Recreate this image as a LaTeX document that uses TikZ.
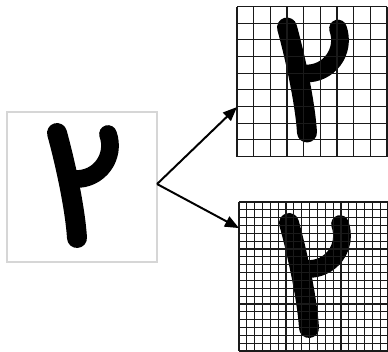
\documentclass[tikz,border=0pt]{standalone}
\usetikzlibrary{arrows.meta,calc}
\definecolor{framec}{HTML}{D6D6D6}
\definecolor{gridc}{HTML}{1A1A1A}
\definecolor{inkc}{HTML}{000000}

\tikzset{
  imgbox/.style={inner sep=0pt, outer sep=0pt, anchor=north west, minimum size=#1},
  ink/.style={draw=inkc, line cap=round, line join=round},
  gridline/.style={draw=gridc, line width=0.8pt},
  zoomarrow/.style={draw=black, line width=1.4pt, -{Triangle[length=10pt, width=8pt]}}
}

% handwritten digit, box-relative coordinates (1 unit = 1 px, y down)
\newcommand{\digitglyph}{%
  \draw[ink, line width=14.2pt] (50,21) .. controls (58,50) and (68,95) .. (70,126);
  \draw[ink, line width=12.6pt] (68,67) .. controls (92,68) and (109,45) .. (101,22);
}

\begin{document}
\begin{tikzpicture}[x=0.025cm, y=-0.025cm]
  \useasboundingbox (0,0) rectangle (388,351);
  \fill[white] (0,0) rectangle (388,351);

  % ==========================================================
  %                     PARAMETERS
  % ==========================================================
  \def\Ncoarse{9}     % cells per side, upper grid
  \def\Nfine{19}      % cells per side, lower grid
  \def\sideA{150}     % side of upper grid (px)
  \def\sideB{149}     % side of lower grid (px)

  % ==========================================================
  %                     SOURCE IMAGE
  % ==========================================================
  \node[imgbox=3.75cm, draw=framec, line width=0.8pt] (src) at (7,112) {};
  \begin{scope}[shift={(src.north west)}]
    \digitglyph
  \end{scope}

  % ==========================================================
  %                     COARSE GRID (top)
  % ==========================================================
  \node[imgbox=3.75cm] (coarse) at (237,6.5) {};
  \begin{scope}[shift={(coarse.north west)}]
    \digitglyph
    \pgfmathsetmacro{\cellA}{\sideA/\Ncoarse}
    \foreach \k in {0,...,\Ncoarse} {
      \draw[gridline] (\k*\cellA,0) -- (\k*\cellA,\sideA);
      \draw[gridline] (0,\k*\cellA) -- (\sideA,\k*\cellA);
    }
  \end{scope}

  % ==========================================================
  %                     FINE GRID (bottom)
  % ==========================================================
  \node[imgbox=3.725cm] (fine) at (239,202) {};
  \begin{scope}[shift={(fine.north west)}]
    \digitglyph
    \pgfmathsetmacro{\cellB}{\sideB/\Nfine}
    \foreach \k in {0,...,\Nfine} {
      \draw[gridline] (\k*\cellB,0) -- (\k*\cellB,\sideB);
      \draw[gridline] (0,\k*\cellB) -- (\sideB,\k*\cellB);
    }
  \end{scope}

  % ==========================================================
  %                     ARROWS
  % ==========================================================
  \coordinate (fork) at ($(src.south east)!0.52!(src.north east)$);
  \draw[zoomarrow] (fork) -- ($(coarse.north west)!0.67!(coarse.south west)$);
  \draw[zoomarrow] (fork) -- ($(fine.north west)!0.175!(fine.south west)$);
\end{tikzpicture}
\end{document}
